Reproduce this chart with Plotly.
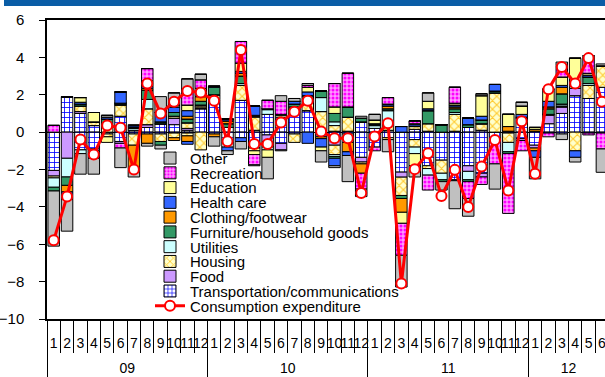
import plotly.graph_objects as go

# ---------------- data ----------------
years = ["09", "10", "11", "12"]
year_months = [12, 12, 12, 6]
months = ["1", "2", "3", "4", "5", "6", "7", "8", "9", "10", "11", "12"] * 3 + ["1", "2", "3", "4", "5", "6"]

transport_pos = [0, 1.9, 1.0, 0.35, 0, 0.85, 0.1, 0.25, 0.45, 0.4, 0.1, 1.25,
                 1.65, 0.25, 1.7, 0.1, 0.95, 0.7, 1.15, 1.15, 0.1, 0.05, 0.05, 0.55,
                 0.2, 0.1, 0, 0.15, 0.05, 0, 0.05, 0.25, 0.1, 0, 0.05, 0.75,
                 0.05, 0.45, 1.0, 1.95, 1.8, 2.4]
transport_neg = [-2.05, 0, -0.95, -0.9, -0.1, -0.5, -0.1, -0.1, -0.1, -0.05, -0.05, 0,
                 -0.1, -0.8, -0.3, -0.7, -0.15, -0.6, -0.1, 0, -0.15, -0.3, -0.1, -1.35,
                 -0.8, -0.3, -2.14, -0.4, -1.8, -1.5, -2.55, -1.8, -2.2, -0.3, -0.05, -0.35,
                 -0.7, -0.05, -0.1, 0, -0.05, -0.05]
food_pos = [0, 0, 0.1, 0, 0, 0, 0, 0.15, 0, 0.35, 0.1, 0.05,
            0.1, 0, 0, 0, 0, 0.1, 0.1, 0, 0, 0, 0, 0,
            0, 0, 0, 0, 0, 0, 0, 0, 0, 0, 0, 0,
            0, 0.45, 0.35, 0.4, 0, 0]
food_neg = [-0.3, -1.4, 0, -0.1, 0, -0.1, 0, 0, 0, 0, 0, 0,
            0, 0, 0, -0.15, -0.35, -0.35, 0, 0, -0.1, -0.4, 0, -0.25,
            0, 0, -0.27, 0, 0, 0, -0.05, -0.3, -0.2, -0.1, 0, -0.1,
            -0.15, 0, 0, 0, 0, 0]
housing_pos = [0, 0, 0.3, 0.2, 0.35, 0.6, 0, 0.85, 0, 0.1, 0.3, 0.1,
               0.25, 0, 0.8, 0.7, 0, 0.1, 0, 0.55, 1.0, 0.3, 0.75, 0,
               0, 0.3, 0, 0.15, 0.4, 0, 0.9, 0, 0.35, 2.1, 0, 0,
               0, 0.05, 0.05, 0.1, 0.7, 1.15]
housing_neg = [-0.1, 0, 0, 0, -0.15, 0, -0.6, 0, -0.4, -0.25, -0.15, -0.95,
               0, 0, 0, -0.15, -0.3, 0, -0.45, 0, 0, -0.5, -0.25, -0.1,
               0, -0.1, -0.98, -0.4, -0.15, -0.7, 0, 0, 0, -0.1, -0.5, 0,
               0, 0, 0, -1.0, 0, 0]
utilities_pos = [0, 0, 0, 0, 0, 0.05, 0.1, 0.5, 0, 0, 0, 0.05,
                 0, 0, 0.1, 0.05, 0.25, 0.05, 0.1, 0.1, 0.75, 0.2, 0, 0,
                 0.15, 0.75, 0, 0, 0, 0, 0.1, 0, 0, 0, 0, 0,
                 0, 0, 0.1, 0.1, 0.1, 0]
utilities_neg = [-0.5, -1.0, -0.2, -0.1, 0, 0, 0, 0, 0, 0, 0, 0,
                 0, 0, 0, 0, -0.15, 0, 0, 0, 0, -0.1, -0.2, 0,
                 0, 0, 0, -0.35, -0.35, -0.35, 0, -0.45, 0, 0, -0.5, 0,
                 0, 0, 0, 0, 0, 0]
furniture_pos = [0, 0, 0.1, 0, 0.35, 0.05, 0.05, 0.5, 0.1, 0.2, 0.2, 0.2,
                 0.4, 0.2, 0.4, 0, 0.05, 0, 0.15, 0.15, 0.35, 0.45, 0.55, 0.2,
                 0.1, 0.1, 0, 0, 0.7, 0.4, 0.2, 0.15, 0.2, 0.1, 0, 0.05,
                 0, 0.3, 0.55, 0, 0.35, 0]
furniture_neg = [-0.2, -0.45, 0, 0, 0, 0, 0, 0, -0.2, 0, 0, 0,
                 0, 0, 0, 0, 0, 0, 0, 0, 0, -0.1, 0, 0,
                 0, 0, -0.16, 0, 0, -0.1, 0, -0.1, 0, 0, -0.1, 0,
                 0, 0, 0, 0, 0, 0]
clothing_pos = [0, 0, 0, 0, 0, 0, 0, 0.1, 0, 0, 0.15, 0.25,
                0, 0.15, 0.15, 0.05, 0, 0, 0, 0, 0, 0, 0, 0,
                0, 0.15, 0, 0, 0, 0, 0.1, 0, 0, 0, 0.25, 0,
                0.1, 0.1, 0.35, 0, 0, 0]
clothing_neg = [0, -0.35, 0, 0, 0, 0, -1.3, -0.5, 0, -0.15, -0.3, 0,
                -0.15, 0, 0, 0, 0, 0, 0, 0, -0.1, 0, -0.5, -0.5,
                0, 0, -0.74, 0, 0, 0, 0, 0, 0, 0, 0, 0,
                -0.15, 0, 0, 0, 0, 0]
health_pos = [0, 0, 0.1, 0, 0.1, 0.6, 0.1, 0.1, 0.5, 0.3, 0.3, 0.2,
              0.05, 0.1, 0.1, 0.5, 0, 0, 0.15, 0.2, 0, 0, 0, 0,
              0, 0.1, 0.3, 0.1, 0.1, 0, 0.1, 0.35, 0.2, 0.35, 0, 0.15,
              0, 0.3, 0.1, 0.1, 0.1, 0]
health_neg = [0, -0.4, 0, -0.3, 0, 0, 0, 0, 0, 0, -0.15, 0,
              0, -0.2, -0.2, 0, 0, 0, 0, -0.6, -0.45, -0.4, -0.2, 0,
              0, 0, 0, 0, 0, 0, 0, 0, 0, 0, 0, 0,
              -0.35, 0, 0, -0.35, 0, 0]
education_pos = [0, 0, 0.25, 0.5, 0, 0, 0, 0.3, 0, 0.1, 0.3, 0.25,
                 0, 0, 0.45, 0, 0, 0, 0, 0.25, 0, 0.35, 0, 0,
                 0.2, 0, 0, 0.05, 0.4, 0, 0.1, 0, 1.1, 0, 0.65, 0.45,
                 0.1, 0.65, 0.45, 1.3, 0.1, 0]
education_neg = [0, 0, 0, 0, -0.3, 0, 0, 0, 0, 0, 0, 0,
                 0, 0, 0, -0.2, -0.4, 0, 0, 0, -0.2, 0, 0, 0,
                 0, 0, -0.59, -0.65, 0, 0, 0, 0, 0, 0, 0, 0,
                 0, 0, 0, 0, 0, 0]
recreation_pos = [0.36, 0, 0, 0, 0, 0, 0, 0.65, 0, 0.15, 0.85, 0.45,
                  0, 0, 1.15, 0, 0.45, 0.7, 0, 0.1, 0, 1.25, 1.8, 0,
                  0, 0.35, 0, 0.15, 0, 0, 0.85, 0, 0, 0, 0, 0,
                  0, 0, 0.6, 0, 0.75, 0]
recreation_neg = [0, 0, 0, 0, 0, -0.25, 0, 0, 0, 0, 0, 0,
                  0, 0, 0, -0.55, 0, 0, 0, 0, 0, 0, 0, -0.85,
                  -0.2, 0, -1.71, 0, -0.8, 0, 0, -0.9, -0.4, -1.2, -3.2, -0.55,
                  0, -0.2, 0, 0, -0.1, -0.85]
other_pos = [0, 0, 0, 0, 0.1, 0, 0.05, 0, 0.85, 0.5, 0.55, 0.3,
             0, 0, 0, 0, 0, 0.3, 0.15, 0.1, 0, 0, 0, 0.1,
             0.3, 0, 0, 0, 0.45, 0, 0, 0, 0.1, 0, 0, 0.2,
             0, 0, 0.2, 0, 0.2, 0.1]
other_neg = [-2.95, -1.7, -1.1, -0.85, 0, -1.05, -0.4, -0.15, -0.2, 0, 0, 0,
             -0.5, -0.2, -0.4, -0.05, -1.15, -0.05, 0, 0, -0.6, -0.1, -1.4, -0.4,
             0, -0.65, -1.7, -0.6, 0, -0.45, -1.5, -0.95, 0, -1.35, 0, 0,
             -1.15, 0, -0.3, -0.25, 0, -1.25]
consumption = [-5.79, -3.44, -0.4, -1.2, 0.35, 0.24, -2.0, 2.6, 1.0, 1.63, 2.2, 2.12,
               1.68, -0.49, 4.4, -0.63, -0.63, 0.52, 1.09, 1.68, 0.04, -0.33, -0.33, -3.26,
               -0.24, 0.47, -8.1, -1.98, -1.13, -3.42, -2.02, -4.01, -1.84, -0.42, -3.12, 0.58,
               -2.23, 2.3, 3.49, 2.6, 3.96, 1.63]

component_names = ["Transportation/communications", "Food", "Housing", "Utilities",
                   "Furniture/household goods", "Clothing/footwear", "Health care",
                   "Education", "Recreation", "Other"]
positive_parts = [transport_pos, food_pos, housing_pos, utilities_pos, furniture_pos,
                  clothing_pos, health_pos, education_pos, recreation_pos, other_pos]
negative_parts = [transport_neg, food_neg, housing_neg, utilities_neg, furniture_neg,
                  clothing_neg, health_neg, education_neg, recreation_neg, other_neg]
line_name = "Consumption expenditure"
y_ticks = [-10, -8, -6, -4, -2, 0, 2, 4, 6]

# ---------------- derived positions (category index on a linear axis) ----------------
n_months = len(months)
x_idx = list(range(n_months))
month_bounds = [i - 0.5 for i in range(n_months + 1)]
year_bounds, year_centers = [], []
start = 0
for n in year_months:
    year_bounds.append(start - 0.5)
    year_centers.append(start + (n - 1) / 2)
    start += n
year_bounds.append(start - 0.5)

# ---------------- styles ----------------
FONT = "Arial, 'Liberation Sans', sans-serif"
styles = [
    dict(color="white", pattern=dict(shape="+", fgcolor="#0000FF", bgcolor="white", size=5, solidity=0.3)),
    dict(color="#CC99FF"),
    dict(color="#FFFFCC", pattern=dict(shape="x", fgcolor="#FFCC33", bgcolor="#FFFFCC", size=6, solidity=0.35)),
    dict(color="#CCFFFF"),
    dict(color="#339966"),
    dict(color="#FF9900"),
    dict(color="#3366FF"),
    dict(color="#FFFF99"),
    dict(color="#FF99FF", pattern=dict(shape=".", fgcolor="#FF00FF", bgcolor="#FF99FF", size=4, solidity=0.45)),
    dict(color="#C0C0C0"),
]

PLOT_TOP = 20
PLOT_BOTTOM = 319
PLOT_H = PLOT_BOTTOM - PLOT_TOP
PLOT_L = 47
PLOT_W = 605 - PLOT_L
X_RANGE = [-0.5, 41.23]


def legend_id(row):
    return "legend" if row == 0 else f"legend{row + 1}"


def legend_layout(row):
    ypx = 158.3 + 14.77 * row
    return dict(x=(150 - PLOT_L) / PLOT_W, xanchor="left",
                y=(PLOT_BOTTOM - ypx) / PLOT_H, yanchor="middle",
                bgcolor="rgba(0,0,0,0)", borderwidth=0,
                font=dict(family=FONT, size=15, color="black"))


fig = go.Figure()
n_comp = len(component_names)
for i, name in enumerate(component_names):
    st = styles[i]
    row = n_comp - 1 - i
    for part, show in ((positive_parts[i], True), (negative_parts[i], False)):
        marker = dict(color=st["color"], line=dict(color="black", width=1))
        if "pattern" in st:
            marker["pattern"] = dict(fillmode="replace", **st["pattern"])
        fig.add_trace(go.Bar(x=x_idx, y=part, name=name, marker=marker,
                             showlegend=show, legend=legend_id(row),
                             legendgroup=name))

# the line sits on the overlaid year axis (same range) so that axis is drawn
fig.add_trace(go.Scatter(x=x_idx, y=consumption, name=line_name, mode="lines+markers",
                         xaxis="x2", yaxis="y",
                         line=dict(color="#FF0000", width=3),
                         marker=dict(symbol="circle", size=10, color="white",
                                     line=dict(color="#FF0000", width=2)),
                         legend=legend_id(n_comp)))

layout_legends = {legend_id(r): legend_layout(r) for r in range(n_comp + 1)}

fig.update_layout(
    width=605, height=377,
    margin=dict(l=PLOT_L, r=0, t=PLOT_TOP, b=377 - PLOT_BOTTOM, autoexpand=False),
    paper_bgcolor="white", plot_bgcolor="white",
    barmode="relative", bargap=0.14,
    font=dict(family=FONT, size=15, color="black"),
    xaxis=dict(
        range=X_RANGE, showline=True, linecolor="black", linewidth=1.5, mirror=True,
        tickmode="array", tickvals=x_idx, ticktext=months, ticks="",
        tickfont=dict(family=FONT, size=14, color="black"), tickangle=0,
        ticklabelstandoff=10, ticklabeloverflow="allow", showgrid=False, zeroline=False,
        automargin=False,
        minor=dict(tickmode="array", tickvals=month_bounds, ticks="outside",
                   ticklen=32, tickcolor="black", tickwidth=1, showgrid=False),
    ),
    xaxis2=dict(
        range=X_RANGE, overlaying="x", anchor="y", side="bottom",
        showline=False, tickmode="array", tickvals=year_centers, ticktext=years,
        ticks="", tickfont=dict(family=FONT, size=14, color="black"), tickangle=0,
        ticklabelstandoff=39, ticklabeloverflow="allow", showgrid=False, zeroline=False,
        automargin=False,
        minor=dict(tickmode="array", tickvals=year_bounds, ticks="outside",
                   ticklen=60, tickcolor="black", tickwidth=1, showgrid=False),
    ),
    **layout_legends,
)
fig.update_yaxes(
    range=[-10, 6], tickvals=y_ticks, showline=True, linecolor="black", linewidth=1.5,
    ticks="outside", ticklen=6, tickcolor="black", tickwidth=1,
    tickfont=dict(family=FONT, size=15, color="black"),
    showgrid=False, zeroline=True, zerolinecolor="black", zerolinewidth=1,
    ticklabelstandoff=12, automargin=False,
)
fig.add_shape(type="rect", xref="paper", yref="paper",
              x0=(4 - PLOT_L) / PLOT_W, x1=1.0,
              y0=1 + (PLOT_TOP - 6) / PLOT_H, y1=1 + PLOT_TOP / PLOT_H,
              fillcolor="#0A5DA6", line=dict(width=0), layer="above")

fig.write_html("out.html")
